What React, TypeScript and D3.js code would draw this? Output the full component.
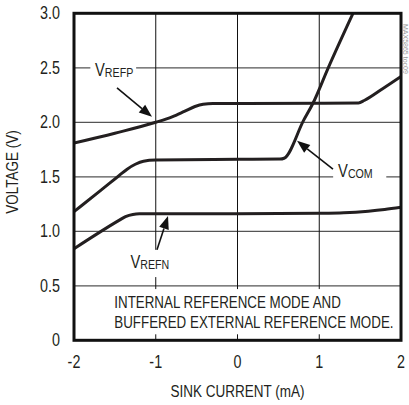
import React from "react";
import * as d3 from "d3";

const W = 409;
const H = 405;

const xTicks = [-2, -1, 0, 1, 2];
const yTicks = [0, 0.5, 1.0, 1.5, 2.0, 2.5, 3.0];
const yTickLabels = ["0", "0.5", "1.0", "1.5", "2.0", "2.5", "3.0"];
const xTickLabels = ["-2", "-1", "0", "1", "2"];

const vrefpX = [-2, -1.5, -1.0, -0.8, -0.65, -0.52, -0.42, -0.3, 0, 1, 1.48, 1.55, 1.78, 2];
const vrefpY = [1.81, 1.9, 2.0, 2.05, 2.1, 2.145, 2.166, 2.173, 2.173, 2.175, 2.178, 2.2, 2.31, 2.42];

const vcomX = [-2, -1.7, -1.45, -1.35, -1.25, -1.15, -1.0, 0, 0.52, 0.57, 0.81, 0.92, 1.11, 1.45];
const vcomY = [1.18, 1.36, 1.51, 1.57, 1.615, 1.643, 1.653, 1.66, 1.663, 1.67, 2.02, 2.17, 2.5, 3.06];

const vrefnX = [-2, -1.45, -1.37, -1.28, -1.2, 0, 1, 1.3, 1.6, 1.8, 2];
const vrefnY = [0.84, 1.1, 1.135, 1.155, 1.16, 1.16, 1.165, 1.17, 1.185, 1.2, 1.22];

const FONT = "'Liberation Sans', Arial, sans-serif";
const SX = 0.82;

function NText(props: {
  x: number;
  y: number;
  size: number;
  anchor?: string;
  rotate?: number;
  fill?: string;
  children: React.ReactNode;
}) {
  const { x, y, size, anchor = "start", rotate = 0, fill = "#231f20", children } = props;
  return (
    <text
      transform={`translate(${x},${y}) rotate(${rotate}) scale(${SX},1)`}
      fontSize={size}
      textAnchor={anchor}
      fill={fill}
    >
      {children}
    </text>
  );
}

export default function App() {
  const margin = { left: 74, right: 8, top: 13.3, bottom: 64.7 };
  const x = d3.scaleLinear().domain([-2, 2]).range([margin.left, W - margin.right]);
  const y = d3.scaleLinear().domain([0, 3]).range([H - margin.bottom, margin.top]);
  const line = d3
    .line<[number, number]>()
    .x((d) => x(d[0]))
    .y((d) => y(d[1]))
    .curve(d3.curveMonotoneX);

  const series = [
    vrefpX.map((v, i) => [v, vrefpY[i]] as [number, number]),
    vcomX.map((v, i) => [v, vcomY[i]] as [number, number]),
    vrefnX.map((v, i) => [v, vrefnY[i]] as [number, number]),
  ];

  const arrows = [
    { from: [-1.474, 2.315], to: [-1.046, 2.05] },
    { from: [1.168, 1.57], to: [0.728, 1.83] },
    { from: [-0.985, 0.83], to: [-0.85, 1.14] },
  ];

  const arrowPath = (a: { from: number[]; to: number[] }) => {
    const x1 = x(a.from[0]), y1 = y(a.from[1]);
    const x2 = x(a.to[0]), y2 = y(a.to[1]);
    const ang = Math.atan2(y2 - y1, x2 - x1);
    const L = 13, Wd = 5;
    const bx = x2 - L * Math.cos(ang), by = y2 - L * Math.sin(ang);
    const px = -Math.sin(ang) * Wd, py = Math.cos(ang) * Wd;
    return {
      shaft: { x1, y1, x2: bx, y2: by },
      head: `M${x2},${y2}L${bx + px},${by + py}L${bx - px},${by - py}Z`,
    };
  };

  const labels = [
    { main: "V", sub: "REFP", x: -1.743, base: 2.425, box: [-1.8, 2.64, 0.56, 0.2] },
    { main: "V", sub: "COM", x: 1.23, base: 1.498, box: [1.17, 1.65, 0.65, 0.22] },
    { main: "V", sub: "REFN", x: -1.31, base: 0.663, box: [-1.34, 0.83, 0.55, 0.25] },
  ];

  const x0 = x(-2), x1 = x(2), yTop = y(3), yBot = y(0);

  return (
    <svg
      width={W}
      height={H}
      style={{ position: "absolute", left: 0, top: 0, background: "#fff" }}
      fontFamily={FONT}
    >
      <rect x={0} y={0} width={W} height={H} fill="#fff" />
      <defs>
        <clipPath id="clip">
          <rect x={x0} y={yTop} width={x1 - x0} height={yBot - yTop} />
        </clipPath>
      </defs>
      {/* grid */}
      {yTicks.slice(1, -1).map((t) => (
        <line key={"h" + t} x1={x0} x2={x1} y1={y(t)} y2={y(t)} stroke="#555" strokeWidth={1.2} />
      ))}
      {xTicks.slice(1, -1).map((t) => (
        <line key={"v" + t} x1={x(t)} x2={x(t)} y1={yTop} y2={yBot} stroke="#111" strokeWidth={1} />
      ))}
      {/* label boxes */}
      {labels.map((l, i) => (
        <rect
          key={"lb" + i}
          x={x(l.box[0])}
          y={y(l.box[1])}
          width={x(l.box[0] + l.box[2]) - x(l.box[0])}
          height={y(l.box[1] - l.box[3]) - y(l.box[1])}
          fill="#fff"
        />
      ))}
      <rect x={x(-1.55)} y={y(0.47)} width={x(1.9) - x(-1.55)} height={y(0.055) - y(0.47)} fill="#fff" />
      {/* curves */}
      <g clipPath="url(#clip)">
        {series.map((s, i) => (
          <path key={"s" + i} d={line(s) || ""} fill="none" stroke="#231f20" strokeWidth={3} strokeLinejoin="round" />
        ))}
      </g>
      {/* frame */}
      <rect x={x0} y={yTop} width={x1 - x0} height={yBot - yTop} fill="none" stroke="#111" strokeWidth={3} />
      {/* arrows */}
      {arrows.map((a, i) => {
        const p = arrowPath(a);
        return (
          <g key={"a" + i}>
            <line {...p.shaft} stroke="#111" strokeWidth={1.6} />
            <path d={p.head} fill="#111" />
          </g>
        );
      })}
      {/* labels */}
      {labels.map((l, i) => (
        <NText key={"lt" + i} x={x(l.x)} y={y(l.base)} size={18}>
          {l.main}
          <tspan fontSize={13} dy={1}>{l.sub}</tspan>
        </NText>
      ))}
      {/* annotation */}
      <NText x={x(-1.507)} y={y(0.3) + 0.5} size={16.3}>INTERNAL REFERENCE MODE AND</NText>
      <NText x={x(-1.507)} y={y(0.12) + 0.5} size={16.3}>BUFFERED EXTERNAL REFERENCE MODE.</NText>
      {/* tick labels */}
      {yTicks.map((t, i) => (
        <NText key={"yl" + t} x={60} y={y(t) + 6} size={17.5} anchor="end">
          {yTickLabels[i]}
        </NText>
      ))}
      {xTicks.map((t, i) => (
        <NText key={"xl" + t} x={x(t)} y={368} size={17.5} anchor="middle">
          {xTickLabels[i]}
        </NText>
      ))}
      <NText x={(x0 + x1) / 2} y={397} size={16.5} anchor="middle">
        SINK CURRENT (mA)
      </NText>
      <NText x={18} y={172} size={16.5} anchor="middle" rotate={-90}>
        VOLTAGE (V)
      </NText>
      <text
        transform={`translate(402.5,24) rotate(90)`}
        fontSize={7}
        fill="#999"
        fontFamily="'Liberation Sans', sans-serif"
      >
        MAX5865 toc09
      </text>
    </svg>
  );
}
